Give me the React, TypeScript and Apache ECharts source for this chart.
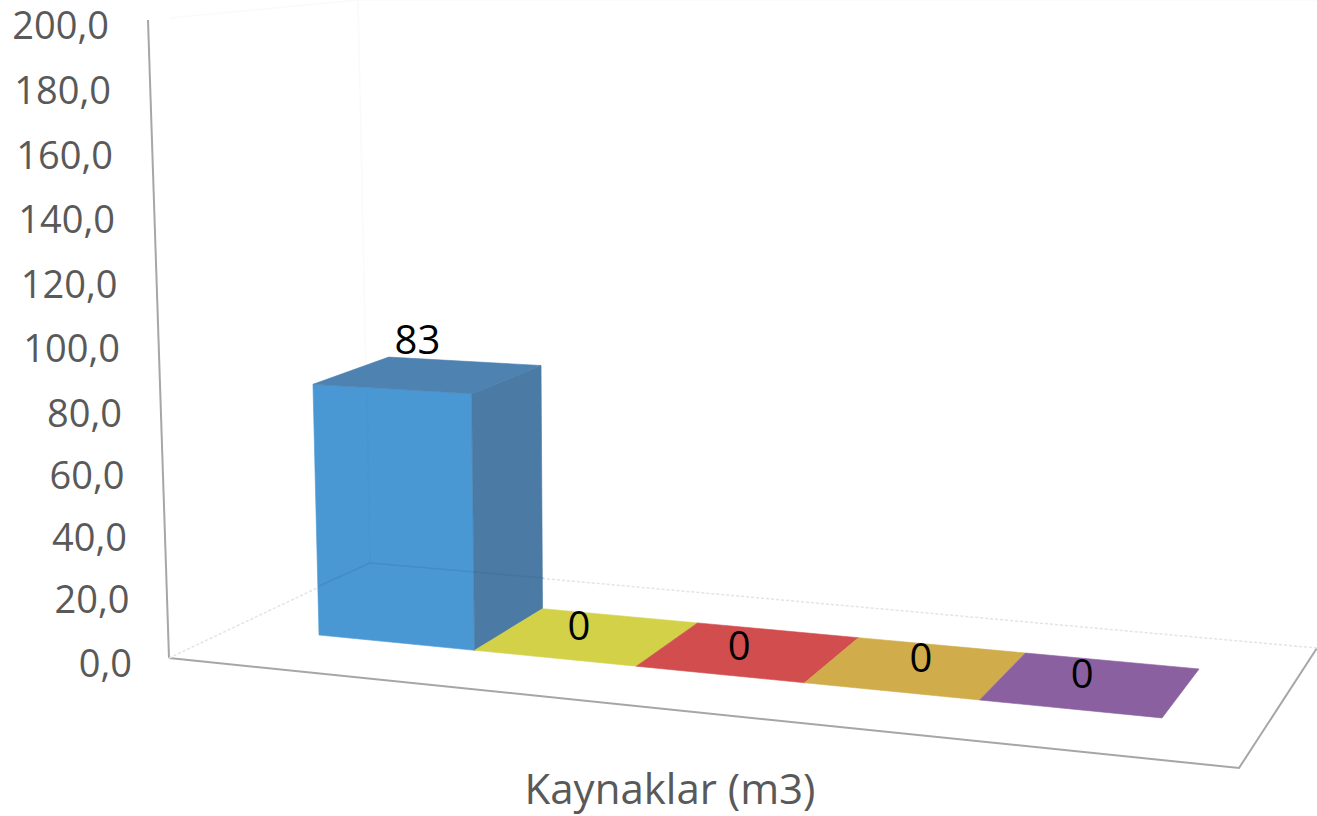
import React, { useEffect, useRef } from "react";
import * as echarts from "echarts";

const categories = ["Kaynak 1", "Kaynak 2", "Kaynak 3", "Kaynak 4", "Kaynak 5"];
const values = [83, 0, 0, 0, 0];
const tickLabels = ["0,0", "20,0", "40,0", "60,0", "80,0", "100,0", "120,0", "140,0", "160,0", "180,0", "200,0"];
const axisTitle = "Kaynaklar (m3)";
const frontColors = ["#4A98D3", "#D2D148", "#D24E4E", "#D0AC4A", "#8A60A0"];
const sideColor = "#4B7BA5";
const topColor = "#4E82B1";

// Perspective of the floor (unit square to screen), style constants only
const H = { a: 718.8, b: 94, c: 319, d: 6.2, e: -9.8, f: 635, g: -0.1069, h: 0.0508 };
const labelFont = '40px "Open Sans"';
const labelShift = [[-11, -12], [-9, -12], [-10, -7], [4, -11], [-9, -12]];

function floor(u0: number, v: number) {
  const u = u0 + 0.014 * u0 * (1 - u0);
  const w = H.g * u + H.h * v + 1;
  return [(H.a * u + H.b * v + H.c) / w, (H.d * u + H.e * v + H.f) / w];
}
// Raise a floor point by a pixel height from the value axis, leaning like the 3D view
function lift(p: number[], px: number) {
  const k = 0.95 + (p[1] - 634) * 0.00125 + (p[0] - 318) * 0.00002;
  const h = px * k;
  return [p[0] - (620 - p[0]) * 0.00008 * h, p[1] - h];
}

export default function App() {
  const ref = useRef<HTMLDivElement>(null);
  useEffect(() => {
    document.body.style.margin = "0";
    const chart = echarts.init(ref.current!, null, { renderer: "svg" });
    const plotLeft = 170;
    const plotW = 1000;
    const rightEdge = [130, 127.5, 125, 122.5, 120, 118, 115.5, 113, 111, 109, 107];
    const yNudge = [0, -0.5, 1, 2.5, 4, 2.5, 2, 0.5, 0, -2, -3];
    const rich: Record<string, any> = {};
    tickLabels.forEach((_, i) => {
      const n = yNudge[i];
      rich["t" + i] = {
        fontFamily: "Open Sans",
        fontSize: 38,
        lineHeight: 30,
        color: "#595959",
        padding: [n > 0 ? 2 * n : 0, 130 - rightEdge[i], n < 0 ? -2 * n : 0, 0],
      };
    });
    const face = (fill: string) => ({ fill, stroke: fill, lineWidth: 0.6 });
    chart.setOption({
      animation: false,
      backgroundColor: "#fff",
      grid: { left: plotLeft, width: plotW, top: 27, bottom: 154, containLabel: false, outerBoundsMode: "none" },
      xAxis: {
        type: "category",
        data: categories,
        axisLine: { show: false },
        axisTick: { show: false },
        axisLabel: { show: false },
        name: axisTitle,
        nameLocation: "middle",
        nameGap: 104,
        nameTextStyle: { fontFamily: "Open Sans", fontSize: 42, color: "#595959" },
      },
      yAxis: {
        type: "value",
        min: 0,
        max: 200,
        interval: 20,
        axisLine: { show: false },
        axisTick: { show: false },
        splitLine: { show: false },
        axisLabel: {
          margin: 38,
          formatter: (v: number) => {
            const i = Math.round(v / 20);
            return `{t${i}|${tickLabels[i]}}`;
          },
          rich,
        },
      },
      graphic: [
        { type: "line", z: 0, shape: { x1: 148, y1: 20, x2: 169, y2: 658 }, style: { stroke: "#A6A6A6", lineWidth: 2 } },
        { type: "polyline", z: 0, shape: { points: [[169, 658], [1239, 768], [1317, 648]] }, style: { stroke: "#A6A6A6", lineWidth: 2, fill: "none" } },
        { type: "polyline", z: 0, shape: { points: [[169, 658], [370, 563], [1317, 648]] }, style: { stroke: "#E4E4E4", lineWidth: 1.5, lineDash: [3, 2], fill: "none" } },
        { type: "polyline", z: 0, shape: { points: [[370, 563], [358, 0]] }, style: { stroke: "#FAFAFA", lineWidth: 1.5, fill: "none" } },
        { type: "polyline", z: 0, shape: { points: [[170, 18], [358, 0], [1317, 0]] }, style: { stroke: "#FAFAFA", lineWidth: 1.5, fill: "none" } },
        { type: "polyline", z: 10, shape: { points: [[319, 586], [370, 563], [544, 578]] }, style: { stroke: "rgba(40,90,140,0.18)", lineWidth: 1.5, fill: "none" } },
        { type: "line", z: 10, shape: { x1: 370, y1: 563, x2: 367, y2: 394 }, style: { stroke: "rgba(40,90,140,0.05)", lineWidth: 1.5 } },
      ],
      series: [
        {
          type: "custom",
          z: 5,
          clip: false,
          encode: { x: 0, y: 1 },
          data: values.map((v, i) => [i, v]),
          renderItem: (params: any, api: any) => {
            const i = api.value(0);
            const v = api.value(1);
            const c = api.coord([i, v]);
            const base = api.coord([i, 0]);
            const band = api.size([1, 0])[0];
            const u0 = (c[0] - band / 2 - plotLeft) / plotW;
            const u1 = (c[0] + band / 2 - plotLeft) / plotW;
            const hPx = base[1] - c[1];
            const fl = floor(u0, 0), fr = floor(u1, 0), br = floor(u1, 1), bl = floor(u0, 1);
            const [tfl, tfr, tbr, tbl] = [fl, fr, br, bl].map((p) => lift(p, hPx));
            const color = frontColors[params.dataIndex];
            const children: any[] = [];
            if (v > 0) {
              children.push(
                { type: "polygon", shape: { points: [fl, fr, tfr, tfl] }, style: face(color) },
                { type: "polygon", shape: { points: [fr, br, tbr, tfr] }, style: face(sideColor) },
                { type: "polygon", shape: { points: [tfl, tfr, tbr, tbl] }, style: face(topColor) }
              );
            } else {
              children.push({ type: "polygon", shape: { points: [tfl, tfr, tbr, tbl] }, style: face(color) });
            }
            const anchor = lift(floor((u0 + u1) / 2, 0.5), hPx * 1.1);
            const shift = labelShift[params.dataIndex];
            children.push({
              type: "text",
              z2: 20,
              style: {
                text: String(v),
                x: anchor[0] + shift[0],
                y: anchor[1] + shift[1],
                font: labelFont,
                fill: "#000",
                align: "center",
                verticalAlign: "middle",
              },
            });
            return { type: "group", children };
          },
        },
      ],
    });
    return () => chart.dispose();
  }, []);
  return <div ref={ref} style={{ width: 1317, height: 816 }} />;
}
